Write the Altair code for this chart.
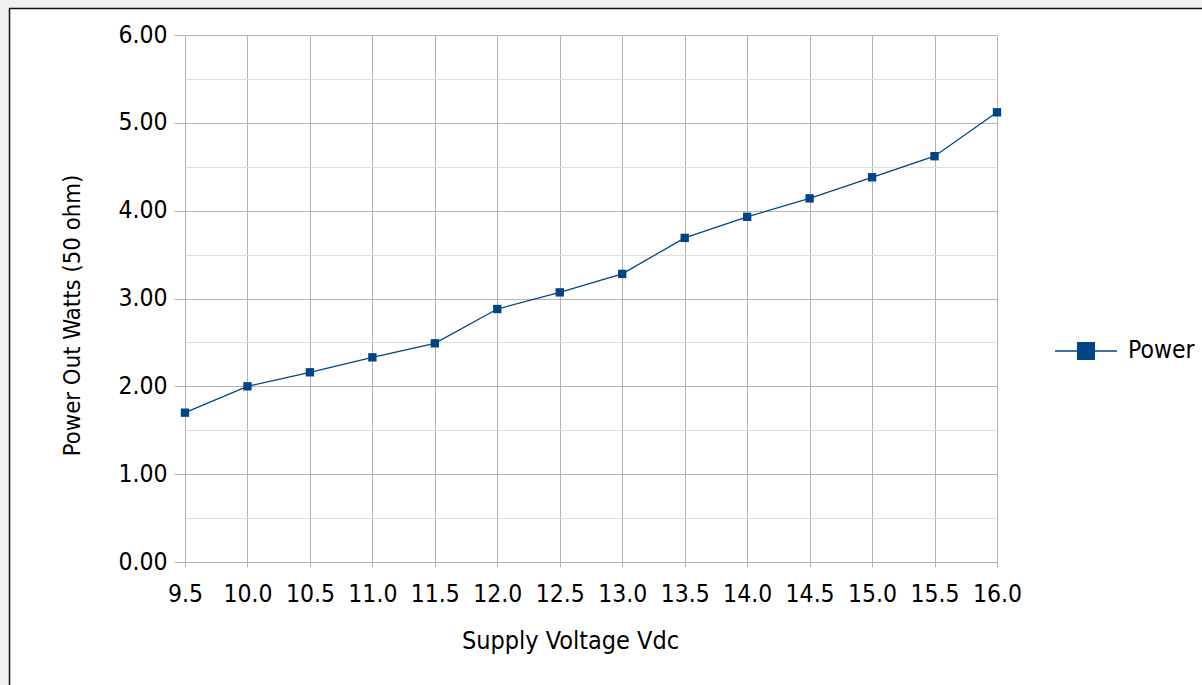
import altair as alt
import pandas as pd

# ---- data ----
voltage = [9.5, 10.0, 10.5, 11.0, 11.5, 12.0, 12.5, 13.0, 13.5, 14.0, 14.5, 15.0, 15.5, 16.0]
power_watts = [1.70, 2.00, 2.16, 2.33, 2.49, 2.88, 3.07, 3.28, 3.69, 3.93, 4.14, 4.38, 4.62, 5.12]
series_name = ["Power"] * len(voltage)

x_ticks = [9.5, 9.75, 10.0, 10.25, 10.5, 10.75, 11.0, 11.25, 11.5, 11.75, 12.0, 12.25, 12.5,
           12.75, 13.0, 13.25, 13.5, 13.75, 14.0, 14.25, 14.5, 14.75, 15.0, 15.25, 15.5, 15.75, 16.0]
y_ticks = [0.0, 0.5, 1.0, 1.5, 2.0, 2.5, 3.0, 3.5, 4.0, 4.5, 5.0, 5.5, 6.0]

df = pd.DataFrame({"Voltage": voltage, "Power": power_watts, "Series": series_name})
one = pd.DataFrame({"k": [0]})

FONT = "DejaVu Sans Condensed, DejaVu Sans"
W, H = 812, 527
PAD = {"left": 185, "top": 35, "right": 205, "bottom": 123}
MAJOR = "#b3b3b3"
MINOR = "#dedede"
BLUE = "#004586"

x_major_test = "datum.value % 0.5 === 0"
y_major_test = "datum.value % 1 === 0"

x_axis = alt.Axis(
    values=x_ticks, grid=True,
    gridColor={"condition": {"test": x_major_test, "value": MAJOR}, "value": MINOR},
    gridWidth=1, domain=False, ticks=True, tickSize=5, tickColor=MAJOR,
    tickOpacity={"condition": {"test": x_major_test, "value": 1}, "value": 0},
    labelExpr="datum.value % 0.5 === 0 ? format(datum.value, '.1f') : ''",
    labelFont=FONT, labelFontSize=24.5, labelColor="black", labelPadding=15,
    labelFlush=False, labelOverlap=False, labelBound=False,
    title="Supply Voltage Vdc", titleFont=FONT, titleFontSize=25,
    titleFontWeight="normal", titleColor="black",
    titleX=385, titleY=78, titleAlign="center", titleBaseline="middle",
)

y_axis = alt.Axis(
    values=y_ticks, grid=True,
    gridColor={"condition": {"test": y_major_test, "value": MAJOR}, "value": MINOR},
    gridWidth=1, domain=False, ticks=True, tickSize=11, tickColor=MAJOR,
    tickOpacity={"condition": {"test": y_major_test, "value": 1}, "value": 0},
    labelExpr="datum.value % 1 === 0 ? format(datum.value, '.2f') : ''",
    labelFont=FONT, labelFontSize=24.5, labelColor="black", labelPadding=7,
    labelOverlap=False, labelBound=False, labelFlush=False,
    title="Power Out Watts (50 ohm)", titleFont=FONT, titleFontSize=23.7,
    titleFontWeight="normal", titleColor="black",
    titleX=-113, titleY=280, titleAngle=270, titleAlign="center", titleBaseline="middle",
)

legend = alt.Legend(
    orient="none", legendX=869, legendY=284, title=None,
    symbolType="M-1,0L1,0M-0.27,-0.27L0.27,-0.27L0.27,0.27L-0.27,0.27Z",
    symbolSize=3844, symbolFillColor=BLUE, symbolStrokeColor=BLUE, symbolStrokeWidth=1.3,
    labelFont=FONT, labelFontSize=24.5, labelColor="black", labelOffset=10, padding=0,
)

xs = alt.Scale(domain=[9.5, 16.0], nice=False, zero=False)
ys = alt.Scale(domain=[0, 6], nice=False)
color = alt.Color("Series:N", scale=alt.Scale(range=[BLUE]), legend=legend)

# decorative frame (grey margin + black border) outside the plot area
frame_grey_left = alt.Chart(one).mark_rect(color="#f0f0f0").encode(
    x=alt.value(-185), x2=alt.value(-176), y=alt.value(-35), y2=alt.value(H + 123))
frame_grey_top = alt.Chart(one).mark_rect(color="#f0f0f0").encode(
    x=alt.value(-185), x2=alt.value(W + 205), y=alt.value(-35), y2=alt.value(-27))
frame_left = alt.Chart(one).mark_rule(color="#111111", strokeWidth=1.5).encode(
    x=alt.value(-175.5), y=alt.value(-27), y2=alt.value(H + 123))
frame_top = alt.Chart(one).mark_rule(color="#111111", strokeWidth=1.5).encode(
    y=alt.value(-26.5), x=alt.value(-176), x2=alt.value(W + 205))

line = alt.Chart(df).mark_line(strokeWidth=1.3).encode(
    x=alt.X("Voltage:Q", scale=xs, axis=x_axis),
    y=alt.Y("Power:Q", scale=ys, axis=y_axis),
    color=color,
)
points = alt.Chart(df).mark_point(shape="square", filled=True, size=70, opacity=1).encode(
    x=alt.X("Voltage:Q", scale=xs),
    y=alt.Y("Power:Q", scale=ys),
    color=color,
)

chart = alt.layer(frame_grey_left, frame_grey_top, frame_left, frame_top, line, points).properties(
    width=W, height=H, padding=PAD, autosize=alt.AutoSizeParams(type="none"),
).configure_view(stroke=None)

chart.save("out.html", embed_options={"renderer": "svg", "actions": False})
